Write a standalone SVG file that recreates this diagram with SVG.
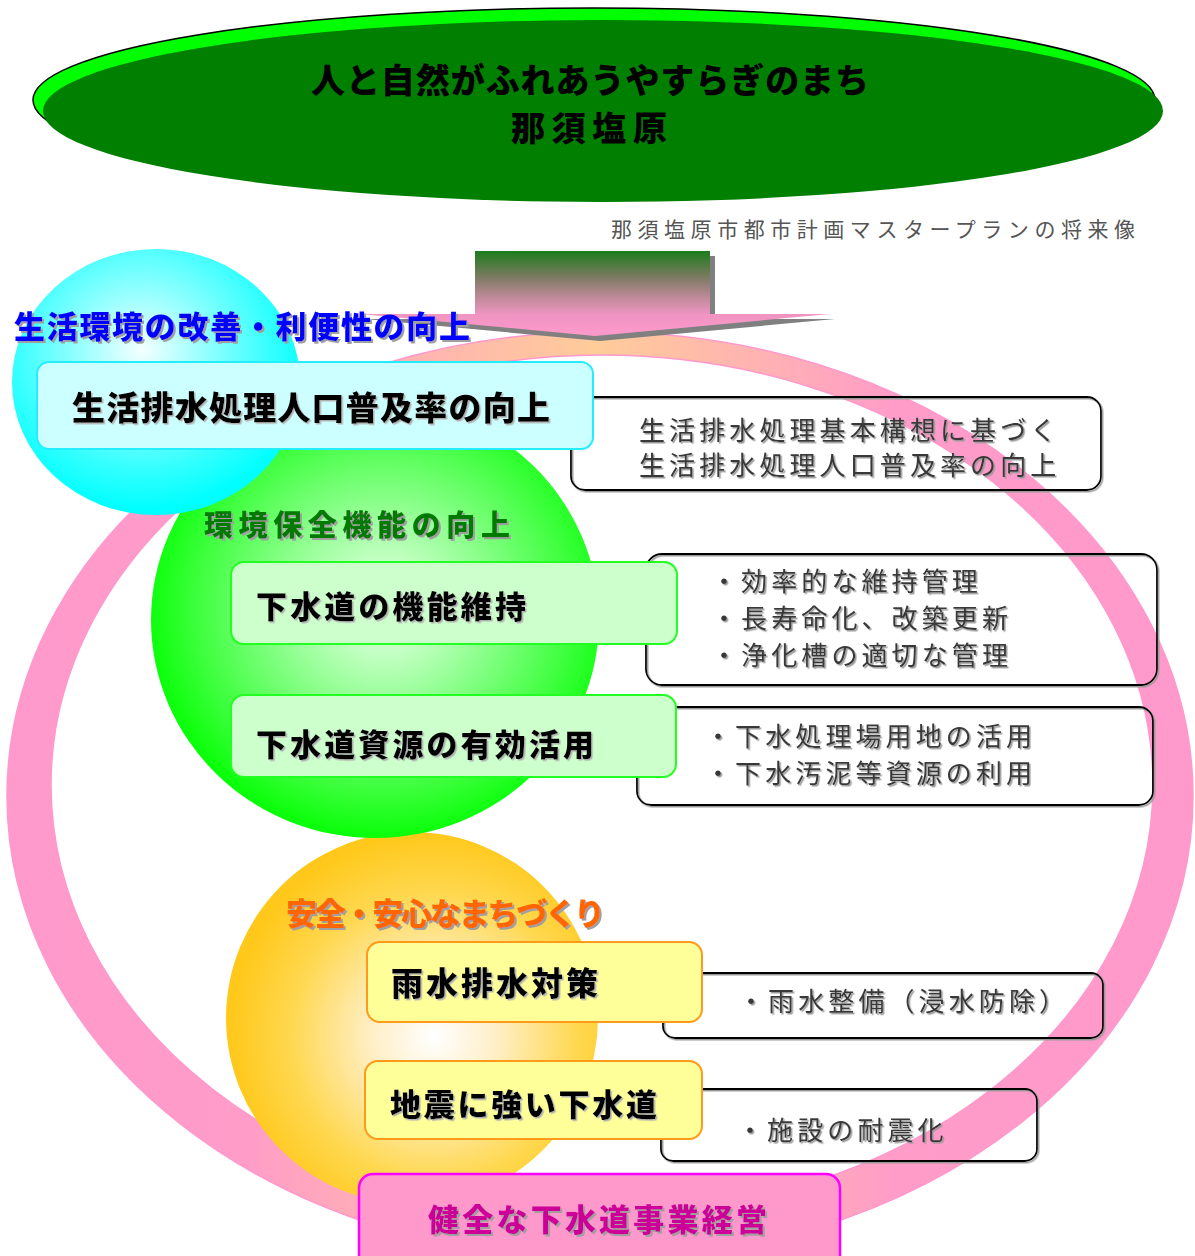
<svg xmlns="http://www.w3.org/2000/svg" width="1195" height="1256" viewBox="0 0 1195 1256">
<defs>
<style>
.t{font-family:'Liberation Sans','Noto Sans CJK JP','Noto Sans CJK SC',sans-serif}
.b{font-weight:900}
.body{font-size:26px;font-weight:400;fill:#383838;letter-spacing:4.1px}
.rbox{fill:none;stroke:#000;stroke-width:1.8}
.cbox{stroke-width:2}
</style>
<linearGradient id="ringG" gradientUnits="userSpaceOnUse" x1="0" y1="0" x2="1195" y2="0">
<stop offset="0" stop-color="#FF99CC"/>
<stop offset="0.2" stop-color="#FF9CC8"/>
<stop offset="0.5" stop-color="#FFCC99"/>
<stop offset="0.75" stop-color="#FF9CC8"/>
<stop offset="1" stop-color="#FF99CC"/>
</linearGradient>
<linearGradient id="arrowG" gradientUnits="userSpaceOnUse" x1="0" y1="251" x2="0" y2="336">
<stop offset="0" stop-color="#1B7D1B"/>
<stop offset="0.3" stop-color="#7A7A60"/>
<stop offset="0.55" stop-color="#C08A9A"/>
<stop offset="0.75" stop-color="#F094C2"/>
<stop offset="1" stop-color="#FF99CC"/>
</linearGradient>
<radialGradient id="cyanG" cx="0.45" cy="0.38" r="0.6">
<stop offset="0" stop-color="#F4FFFF"/>
<stop offset="0.35" stop-color="#99FFFF"/>
<stop offset="0.75" stop-color="#33FFFF"/>
<stop offset="1" stop-color="#00FFFF"/>
</radialGradient>
<radialGradient id="greenG" cx="0.52" cy="0.47" r="0.55">
<stop offset="0" stop-color="#F0FFF0"/>
<stop offset="0.35" stop-color="#A0FFA0"/>
<stop offset="0.75" stop-color="#40FF40"/>
<stop offset="1" stop-color="#00FF00"/>
</radialGradient>
<radialGradient id="orangeG" cx="0.56" cy="0.55" r="0.55">
<stop offset="0" stop-color="#FFFFFF"/>
<stop offset="0.3" stop-color="#FFEFC8"/>
<stop offset="0.7" stop-color="#FFD850"/>
<stop offset="1" stop-color="#FFC81A"/>
</radialGradient>
<filter id="tsh" x="-5%" y="-20%" width="110%" height="140%">
<feDropShadow dx="2" dy="2" stdDeviation="0" flood-color="#A0A0A0"/>
</filter>
<filter id="tsh2" x="-5%" y="-20%" width="110%" height="140%">
<feDropShadow dx="1.5" dy="1.5" stdDeviation="0" flood-color="#B0B0B0"/>
</filter>
<filter id="bsh" x="-5%" y="-10%" width="110%" height="125%">
<feDropShadow dx="1.5" dy="1.5" stdDeviation="0.5" flood-color="#999"/>
</filter>
</defs>

<g id="ring">
<path fill="url(#ringG)" fill-rule="evenodd" stroke="#FF99CC" stroke-width="1.5"
 d="M7,796 A593,464 0 1,0 1193,796 A593,464 0 1,0 7,796 Z M51,785 A551,430 0 1,0 1153,785 A551,430 0 1,0 51,785 Z"/>
</g>

<g id="vision">
<ellipse cx="594" cy="100" rx="561" ry="92" fill="#00FF00" stroke="#000" stroke-width="1.5"/>
<ellipse cx="603" cy="111" rx="560" ry="91" fill="#007F00"/>
<text class="t b" x="311" y="93" font-size="34" textLength="558" lengthAdjust="spacing" fill="#000">人と自然がふれあうやすらぎのまち</text>
<text class="t b" x="511" y="141" font-size="34" textLength="156" lengthAdjust="spacing" fill="#000">那須塩原</text>
</g>

<g id="subtitle">
<text class="t" x="611" y="237" font-size="21" textLength="524" lengthAdjust="spacing" fill="#555">那須塩原市都市計画マスタープランの将来像</text>
</g>

<g id="circle-orange"><circle cx="412" cy="1018" r="186" fill="url(#orangeG)"/></g>
<g id="circle-green"><ellipse cx="375" cy="620" rx="224" ry="218" fill="url(#greenG)"/></g>
<g id="circle-cyan"><ellipse cx="156" cy="382" rx="144" ry="133" fill="url(#cyanG)"/></g>

<g id="connectors">
<polygon points="480,256 715,256 715,319 835,319 600,341 365,319 480,319" fill="#808080"/>
<polygon points="475,251 710,251 710,314 830,314 595,336 360,314 475,314" fill="url(#arrowG)"/>
</g>

<g id="detail-1" filter="url(#bsh)">
<rect class="rbox" x="571" y="397" width="530" height="93" rx="14"/>
<text class="t body" x="639" y="440">生活排水処理基本構想に基づく</text>
<text class="t body" x="639" y="475">生活排水処理人口普及率の向上</text>
</g>
<g id="detail-2" filter="url(#bsh)">
<rect class="rbox" x="646" y="554" width="511" height="131" rx="16"/>
<text class="t body" x="711" y="591">・効率的な維持管理</text>
<text class="t body" x="711" y="628">・長寿命化、改築更新</text>
<text class="t body" x="711" y="665">・浄化槽の適切な管理</text>
</g>
<g id="detail-3" filter="url(#bsh)">
<rect class="rbox" x="637" y="707" width="516" height="98" rx="14"/>
<text class="t body" x="705" y="746">・下水処理場用地の活用</text>
<text class="t body" x="705" y="783">・下水汚泥等資源の利用</text>
</g>
<g id="detail-4" filter="url(#bsh)">
<rect class="rbox" x="663" y="973" width="440" height="65" rx="12"/>
<text class="t body" x="738" y="1011">・雨水整備（浸水防除）</text>
</g>
<g id="detail-5" filter="url(#bsh)">
<rect class="rbox" x="661" y="1089" width="376" height="72" rx="12"/>
<text class="t body" x="737" y="1140">・施設の耐震化</text>
</g>

<g id="box-cyan">
<rect class="cbox" x="37" y="362" width="556" height="87" rx="12" fill="#CCFFFF" stroke="#22EEFF"/>
<text class="t b" x="72" y="420" font-size="33" textLength="478" lengthAdjust="spacing" fill="#000" filter="url(#tsh2)">生活排水処理人口普及率の向上</text>
</g>
<g id="box-green-1">
<rect class="cbox" x="231" y="562" width="446" height="82" rx="13" fill="#CCFFCC" stroke="#22FF22"/>
<text class="t b" x="256" y="618" font-size="31" textLength="270" lengthAdjust="spacing" fill="#000" filter="url(#tsh2)">下水道の機能維持</text>
</g>
<g id="box-green-2">
<rect class="cbox" x="231" y="695" width="445" height="82" rx="13" fill="#CCFFCC" stroke="#22FF22"/>
<text class="t b" x="256" y="756" font-size="31" textLength="338" lengthAdjust="spacing" fill="#000" filter="url(#tsh2)">下水道資源の有効活用</text>
</g>
<g id="box-yellow-1">
<rect class="cbox" x="367" y="942" width="335" height="80" rx="13" fill="#FFFF99" stroke="#FF9A1A"/>
<text class="t b" x="391" y="995" font-size="32" textLength="207" lengthAdjust="spacing" fill="#000" filter="url(#tsh2)">雨水排水対策</text>
</g>
<g id="box-yellow-2">
<rect class="cbox" x="365" y="1061" width="337" height="78" rx="13" fill="#FFFF99" stroke="#FF9A1A"/>
<text class="t b" x="390" y="1116" font-size="31" textLength="267" lengthAdjust="spacing" fill="#000" filter="url(#tsh2)">地震に強い下水道</text>
</g>
<g id="box-pink">
<rect x="359" y="1174" width="481" height="100" rx="14" fill="#FF99CC" stroke="#FF00FF" stroke-width="2.5"/>
<text class="t b" x="428" y="1231" font-size="31" textLength="339" lengthAdjust="spacing" fill="#CC0099" filter="url(#tsh)">健全な下水道事業経営</text>
</g>

<g id="label-cyan">
<text class="t b" x="14" y="338" font-size="31" textLength="456" lengthAdjust="spacing" fill="#0000FF" filter="url(#tsh)">生活環境の改善・利便性の向上</text>
</g>
<g id="label-green">
<text class="t b" x="204" y="536" font-size="29" textLength="306" lengthAdjust="spacing" fill="#007A00" filter="url(#tsh)">環境保全機能の向上</text>
</g>
<g id="label-orange">
<text class="t b" x="286" y="925" font-size="31" textLength="319" lengthAdjust="spacing" fill="#FF6600" filter="url(#tsh)">安全・安心なまちづくり</text>
</g>
</svg>
